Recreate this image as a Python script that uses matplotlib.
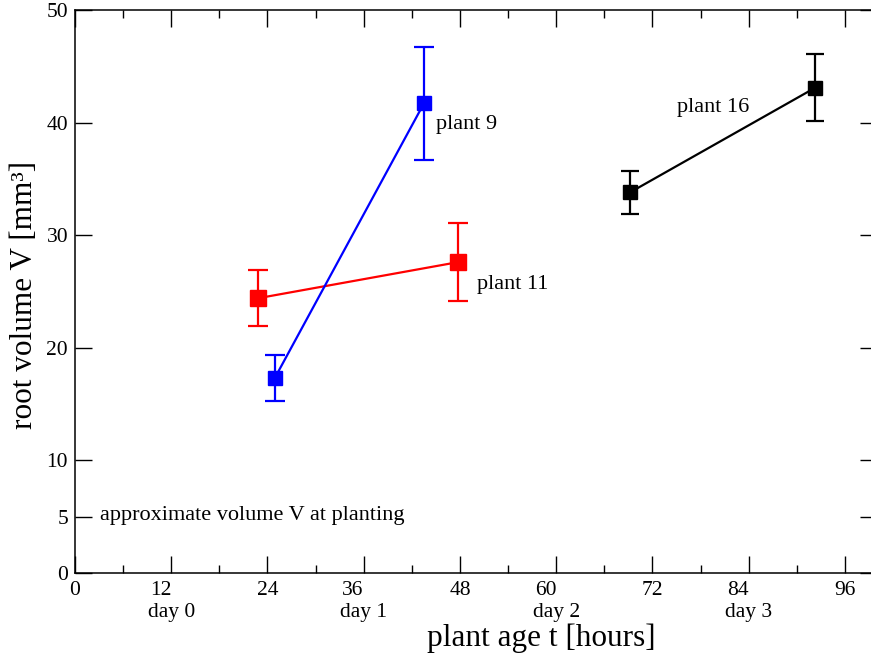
import matplotlib.pyplot as plt
import matplotlib.transforms as mtransforms

plt.rcParams.update({'font.family': 'serif', 'font.serif': ['Liberation Serif', 'DejaVu Serif']})

# plant 11 (red), plant 9 (blue), plant 16 (black)
t11 = [22.8, 47.7]
v11 = [24.4, 27.6]
e11 = [2.5, 3.45]

t9 = [24.9, 43.5]
v9 = [17.3, 41.7]
e9 = [2.05, 5.0]

t16 = [69.2, 92.3]
v16 = [33.8, 43.1]
e16 = [1.9, 3.0]

xticks = [0, 12, 24, 36, 48, 60, 72, 84, 96]
yticks = [0, 5, 10, 20, 30, 40, 50]
days = ['day 0', 'day 1', 'day 2', 'day 3']
day_pos = [12, 36, 60, 84]

fig = plt.figure(figsize=(8.71, 6.54), dpi=100)
ax = fig.add_axes([75 / 871, 81 / 654, 802 / 871, 563 / 654])

ax.errorbar(t11, v11, yerr=e11, color='red', marker='s', ms=12, lw=1.6,
            capsize=7, capthick=1.6, elinewidth=1.6)
ax.errorbar(t9, v9, yerr=e9, color='blue', marker='s', ms=10, lw=1.6,
            capsize=7, capthick=1.6, elinewidth=1.6)
ax.errorbar(t16, v16, yerr=e16, color='black', marker='s', ms=10, lw=1.6,
            capsize=6.5, capthick=1.6, elinewidth=1.6)

ax.set_xlim(0, 100)
ax.set_ylim(0, 50)
ax.set_xticks(xticks)
ax.set_xticks(range(6, 100, 12), minor=True)
ax.set_yticks(yticks)
ax.tick_params(direction='in', which='major', length=12, width=1, labelsize=15.5,
               top=True, right=True, pad=5)
ax.tick_params(axis='x', which='major', pad=6)
ax.tick_params(direction='in', which='minor', length=6, width=1, top=True)
for s in ax.spines.values():
    s.set_linewidth(1.1)

# numbers at 12, 36, 60, 84 sit just left of their ticks
for val, lab in zip(xticks, ax.get_xticklabels()):
    if val in day_pos:
        lab.set_horizontalalignment('right')

trans = mtransforms.blended_transform_factory(ax.transData, ax.transAxes)
for d, p in zip(days, day_pos):
    ax.text(p, -0.07, d, transform=trans, ha='center', va='center', fontsize=15.5)

ax.text(45.0, 39.8, 'plant 9', fontsize=16, va='center')
ax.text(50.1, 25.6, 'plant 11', fontsize=16, va='center')
ax.text(75.1, 41.3, 'plant 16', fontsize=16, va='center')
ax.text(3.1, 5.1, 'approximate volume V at planting', fontsize=16, va='center')

fig.text(541 / 871, 1 - 638 / 654, 'plant age t [hours]', fontsize=22.5,
         ha='center', va='center')
fig.text(25 / 871, 1 - 295 / 654, 'root volume V [mm³]', fontsize=22.5,
         ha='center', va='center', rotation=90)

fig.savefig('out.png', dpi=100)
